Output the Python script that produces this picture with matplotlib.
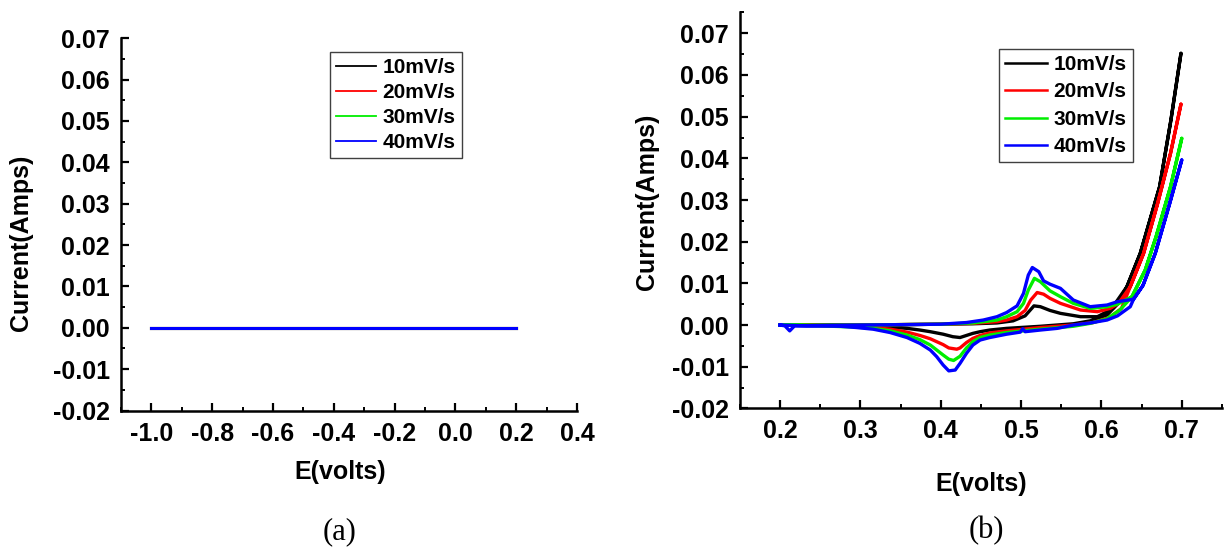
import numpy as np
import matplotlib
matplotlib.use("Agg")
import matplotlib.pyplot as plt
from matplotlib.ticker import MultipleLocator, FormatStrFormatter

plt.rcParams['font.family'] = ['Liberation Sans', 'DejaVu Sans']
plt.rcParams['font.weight'] = 'bold'

labels = ["10mV/s", "20mV/s", "30mV/s", "40mV/s"]
colors = ["#000000", "#ff0000", "#00ee00", "#0000ff"]

# panel (a): flat lines at zero
x_a = [-1.0, -0.6, -0.2, 0.2]
y_a = [0.0, 0.0, 0.0, 0.0]

# panel (b): forward sweep (0.2 -> 0.7) then reverse sweep (0.7 -> 0.2)
x_10 = [0.2, 0.25, 0.3, 0.35, 0.4, 0.44, 0.47, 0.49, 0.505, 0.516, 0.524, 0.536,
        0.549, 0.574, 0.595, 0.611, 0.6172, 0.6317, 0.6483, 0.6724, 0.6865, 0.699,
        0.6865, 0.6724, 0.6483, 0.6317, 0.62, 0.607, 0.586, 0.565, 0.524,
        0.482, 0.461, 0.449, 0.44, 0.432, 0.424, 0.415, 0.403, 0.387, 0.374, 0.358,
        0.337, 0.316, 0.295, 0.25, 0.2]
y_10 = [0.0, 0.0, 0.0, 0.0001, 0.0002, 0.0003, 0.0005, 0.001, 0.0022, 0.0046, 0.0044,
        0.0035, 0.0028, 0.002, 0.002, 0.0036, 0.0052, 0.0092, 0.0172, 0.0332, 0.0492,
        0.0652,
        0.0492, 0.0332, 0.0172, 0.0092, 0.005, 0.0024, 0.001, 0.0003, -0.0003,
        -0.0008, -0.0012, -0.0016, -0.002, -0.0025, -0.003,
        -0.0028, -0.0022, -0.0016, -0.0012, -0.0008, -0.0005, -0.0003, -0.0002,
        0.0, 0.0]

x_20 = [0.2, 0.25, 0.3, 0.35, 0.4, 0.44, 0.47, 0.482, 0.495, 0.505, 0.512, 0.52,
        0.528, 0.536, 0.549, 0.574, 0.595, 0.611, 0.6213, 0.6359, 0.6525, 0.67,
        0.686, 0.699,
        0.686, 0.67, 0.6525, 0.6359, 0.625, 0.61, 0.59, 0.565, 0.524,
        0.482, 0.461, 0.449, 0.44, 0.432, 0.424, 0.42, 0.41, 0.403, 0.395, 0.387,
        0.374, 0.358, 0.337, 0.316, 0.295, 0.25, 0.2]
y_20 = [0.0, 0.0, 0.0, 0.0001, 0.0002, 0.0004, 0.0008, 0.0012, 0.002, 0.0035, 0.006,
        0.0078, 0.0074, 0.0064, 0.0052, 0.0036, 0.0032, 0.004, 0.0052, 0.0092, 0.0172,
        0.0292, 0.0412, 0.053,
        0.0412, 0.0292, 0.0172, 0.0092, 0.004, 0.0018, 0.0006, 0.0, -0.0006,
        -0.0014, -0.0019, -0.0025, -0.0032, -0.0042, -0.0055,
        -0.0058, -0.0055, -0.0047, -0.004, -0.0033, -0.0025, -0.0017, -0.001,
        -0.0006, -0.0003, -0.0001, 0.0]

x_30 = [0.2, 0.25, 0.3, 0.35, 0.4, 0.44, 0.47, 0.482, 0.495, 0.503, 0.509, 0.5166,
        0.524, 0.536, 0.549, 0.565, 0.586, 0.607, 0.62, 0.638, 0.6545, 0.668,
        0.686, 0.7,
        0.686, 0.668, 0.6545, 0.638, 0.623, 0.607, 0.586, 0.565, 0.524,
        0.482, 0.461, 0.449, 0.44, 0.432, 0.424, 0.416, 0.41, 0.403, 0.395, 0.387,
        0.374, 0.358, 0.337, 0.316, 0.295, 0.25, 0.2]
y_30 = [0.0, 0.0, 0.0, 0.0001, 0.0002, 0.0005, 0.0012, 0.002, 0.0032, 0.0052, 0.0084,
        0.0112, 0.0104, 0.0082, 0.0068, 0.0052, 0.004, 0.0044, 0.005, 0.0068, 0.0132,
        0.0212, 0.0332, 0.0448,
        0.0332, 0.0212, 0.0132, 0.0068, 0.0036, 0.0015, 0.0004, -0.0003, -0.001,
        -0.0018, -0.0024, -0.003, -0.004, -0.0055, -0.0075,
        -0.0085, -0.0082, -0.0072, -0.006, -0.0048, -0.0035, -0.0024, -0.0014,
        -0.0008, -0.0005, -0.0002, 0.0]

x_40 = [0.2, 0.206, 0.212, 0.218, 0.25, 0.3, 0.358, 0.4, 0.432, 0.453, 0.47, 0.482,
        0.495, 0.503, 0.509, 0.514, 0.522, 0.528, 0.536, 0.549, 0.565, 0.586,
        0.607, 0.62, 0.64, 0.6517, 0.667, 0.685, 0.7,
        0.685, 0.667, 0.6517, 0.64, 0.6359, 0.62, 0.607, 0.586, 0.565, 0.545,
        0.524, 0.505, 0.502, 0.499, 0.482, 0.461, 0.449, 0.44, 0.432, 0.424, 0.418,
        0.41, 0.403, 0.395, 0.387, 0.374, 0.358, 0.337, 0.316, 0.295, 0.275, 0.233,
        0.2]
y_40 = [0.0, -0.0002, -0.0014, -0.0002, -0.0001, 0.0, 0.0001, 0.0002, 0.0006, 0.0012,
        0.002, 0.003, 0.0046, 0.0076, 0.012, 0.0138, 0.0128, 0.0106, 0.0098, 0.0088,
        0.006, 0.0044, 0.0048, 0.0056, 0.0062, 0.0095, 0.0172, 0.0292, 0.0396,
        0.0292, 0.0172, 0.0095, 0.0062, 0.0044, 0.0022, 0.0012, 0.0005, 0.0,
        -0.0008, -0.0012, -0.0016, -0.0009, -0.0017, -0.0022, -0.003,
        -0.0036, -0.0048, -0.0068, -0.0092, -0.0108, -0.011, -0.0096, -0.0076,
        -0.006, -0.0044, -0.003, -0.0018, -0.001, -0.0006, -0.0003, -0.0002, 0.0]

xs_b = [x_10, x_20, x_30, x_40]
ys_b = [y_10, y_20, y_30, y_40]

fig = plt.figure(figsize=(12.25, 5.5), dpi=100)
ax1 = fig.add_axes([0.0988, 0.2536, 0.3722, 0.677])
ax2 = fig.add_axes([0.604, 0.2575, 0.3935, 0.7198])


def style_axis(ax, xmajor, xminor):
    for side in ["top", "right"]:
        ax.spines[side].set_visible(False)
    for side in ["left", "bottom"]:
        ax.spines[side].set_linewidth(1.8)
    ax.xaxis.set_major_locator(MultipleLocator(xmajor))
    ax.xaxis.set_minor_locator(MultipleLocator(xminor))
    ax.yaxis.set_major_locator(MultipleLocator(0.01))
    ax.yaxis.set_minor_locator(MultipleLocator(0.005))
    ax.yaxis.set_major_formatter(FormatStrFormatter("%.2f"))
    ax.xaxis.set_major_formatter(FormatStrFormatter("%.1f"))
    ax.tick_params(which="major", direction="in", length=6, width=1.6, labelsize=18, pad=8)
    ax.tick_params(which="minor", direction="in", length=3, width=1.4)
    for lab in ax.get_xticklabels() + ax.get_yticklabels():
        lab.set_fontweight("bold")
    ax.set_xlabel("E(volts)", fontsize=18, fontweight="bold")
    ax.set_ylabel("Current(Amps)", fontsize=18, fontweight="bold")


# panel (a)
for lab, c in zip(labels, colors):
    ax1.plot(x_a, y_a, color=c, lw=2.2, label=lab)
ax1.set_xlim(-1.1, 0.4)
ax1.set_ylim(-0.02, 0.07)
style_axis(ax1, 0.2, 0.1)
ax1.xaxis.set_label_coords(0.481, -0.133)
ax1.yaxis.set_label_coords(-0.193, 0.45)
leg1 = ax1.legend(loc="upper left", bbox_to_anchor=(0.458, 0.964), fontsize=15,
                  frameon=True, fancybox=False, framealpha=1, edgecolor="#404040",
                  handlelength=1.92, handletextpad=0.29, labelspacing=0.29,
                  borderpad=0.3, borderaxespad=0)
leg1.get_frame().set_linewidth(1.0)
for line in leg1.get_lines():
    line.set_linewidth(1.3)

# panel (b)
for xv, yv, lab, c in zip(xs_b, ys_b, labels, colors):
    ax2.plot(xv, yv, color=c, lw=2.4, label=lab)
ax2.set_xlim(0.15, 0.75)
ax2.set_ylim(-0.02, 0.075)
style_axis(ax2, 0.1, 0.05)
ax2.xaxis.set_label_coords(0.5, -0.16)
ax2.yaxis.set_label_coords(-0.168, 0.521)
leg2 = ax2.legend(loc="upper left", bbox_to_anchor=(0.538, 0.908), fontsize=15,
                  frameon=True, fancybox=False, framealpha=1, edgecolor="#404040",
                  handlelength=2.0, handletextpad=0.3, labelspacing=0.4,
                  borderpad=0.3, borderaxespad=0)
leg2.get_frame().set_linewidth(1.0)
for line in leg2.get_lines():
    line.set_linewidth(1.8)

fig.text(340 / 1225, 1 - 532 / 550, "(a)", ha="center", va="center",
         fontsize=22, fontweight="normal", family="Liberation Serif")
fig.text(986 / 1225, 1 - 531 / 550, "(b)", ha="center", va="center",
         fontsize=22, fontweight="normal", family="Liberation Serif")

fig.savefig("out.png", dpi=100)
